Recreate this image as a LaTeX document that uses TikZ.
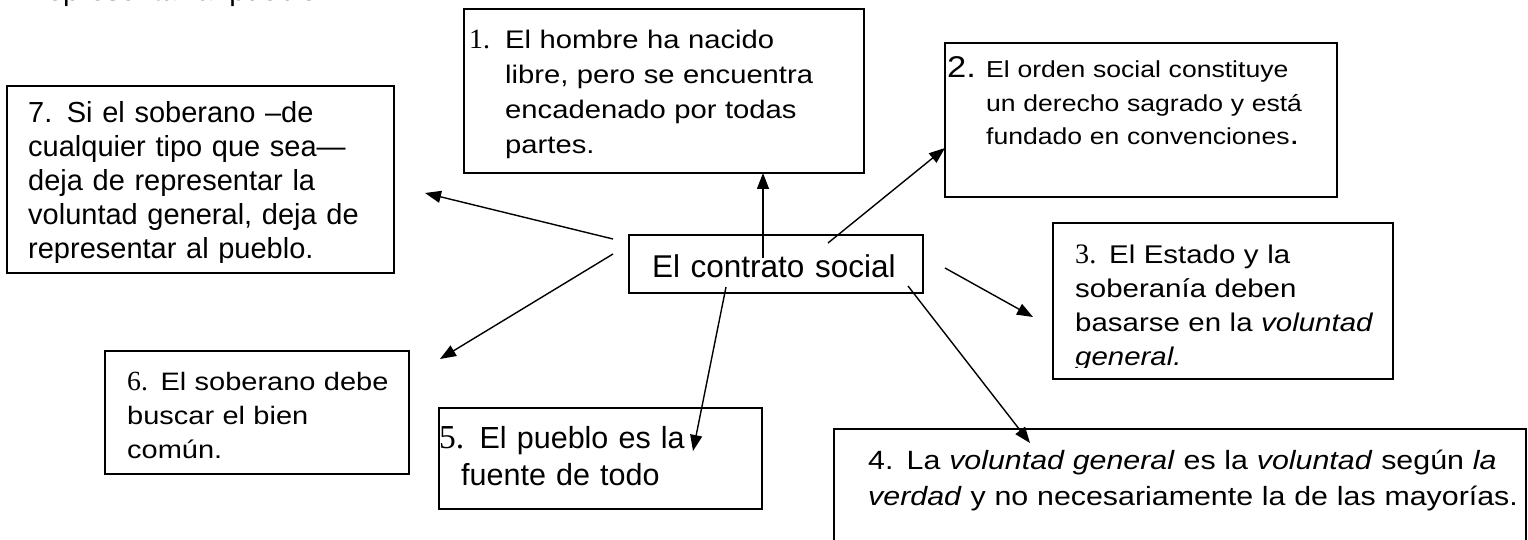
\documentclass[tikz,border=0pt]{standalone}
\usepackage{fontspec}
\setmainfont{Liberation Sans}
\newfontfamily\anchaSans{Liberation Sans}[FakeStretch=1.15]
\newfontfamily\serifNum{Liberation Serif}[Scale=1.1]
\usetikzlibrary{arrows.meta}
\usetikzlibrary{fit}
\newcommand{\drawCaja}[3]{
	\node[caja, fit=(#1)(#2)] (#3) {};
}
\newcommand{\drawFlecha}[2]{
	\draw[flecha] (#1) -- (#2);
}
\tikzset{
	caja/.style={draw, line width=1.6pt, inner sep=0pt, fill=white},
	flecha/.style={-{Triangle[length=16pt,width=12pt]}, line width=1.4pt},
	texto/.style={anchor=base west, inner sep=0pt, align=left, text width=#1},
}

\begin{document}
\begin{tikzpicture}[x=1pt, y=-1pt]
		\path[clip, use as bounding box] (0,0) rectangle (1528,540);
		\coordinate (B7_L) at (7,86);
		\coordinate (B7_R) at (394,273);
		\coordinate (B1_L) at (464,9);
		\coordinate (B1_R) at (864,173);
		\coordinate (B2_L) at (945,43);
		\coordinate (B2_R) at (1337,197);
		\coordinate (BC_L) at (629,235);
		\coordinate (BC_R) at (923,293);
		\coordinate (B3_L) at (1053,223);
		\coordinate (B3_R) at (1393,379);
		\coordinate (B4_L) at (834,429);
		\coordinate (B4_R) at (1526,600);
		\coordinate (B5_L) at (439,408);
		\coordinate (B5_R) at (762,509);
		\coordinate (B6_L) at (105,351);
		\coordinate (B6_R) at (409,474);

		\drawCaja{B7_L}{B7_R}{caja7}
		\drawCaja{B1_L}{B1_R}{caja1}
		\drawCaja{B2_L}{B2_R}{caja2}
		\drawCaja{BC_L}{BC_R}{centro}
		\drawCaja{B3_L}{B3_R}{caja3}
		\drawCaja{B4_L}{B4_R}{caja4}
		\drawCaja{B5_L}{B5_R}{caja5}
		\drawCaja{B6_L}{B6_R}{caja6}

		\node[texto=420pt, font={\fontsize{29.3}{34}\selectfont}] (arriba) at (37,1) {representar al pueblo};
		\begin{scope}
			\clip (B7_L) rectangle (394,262);
			\node[texto=370pt, font={\fontsize{29}{34}\selectfont}] (txt7) at (28,123) {7. Si el soberano –de\\cualquier tipo que sea—\\deja de representar la\\voluntad general, deja de\\representar al pueblo.};
		\end{scope}
		\node[texto=360pt, font={\anchaSans\fontsize{25.4}{34.7}\selectfont}] (txt1) at (505,49) {\llap{\makebox[36pt][l]{\serifNum 1.}}El hombre ha nacido\\libre, pero se encuentra\\encadenado por todas\\partes.};
		\node[texto=350pt, font={\anchaSans\fontsize{23.1}{33.5}\selectfont}] (txt2) at (986,78) {\llap{\makebox[39pt][l]{\fontsize{30}{30}\selectfont 2.}}El orden social constituye\\un derecho sagrado y está\\fundado en convenciones{\fontsize{30}{30}\selectfont .}};
		\node[texto=290pt, font={\fontsize{31.5}{36}\selectfont}] (txtc) at (652,277) {El contrato social};
		\begin{scope}
			\clip (B3_L) rectangle (1393,367);
			\node[texto=320pt, font={\anchaSans\fontsize{25.6}{34}\selectfont}] (txt3) at (1075,263) {{\serifNum 3.} El Estado y la\\soberanía deben\\basarse en la \textit{voluntad}\\\textit{general.}};
		\end{scope}
		\node[texto=680pt, font={\anchaSans\fontsize{26.4}{36}\selectfont}] (txt4) at (868,469) {4. La \textit{voluntad general} es la \textit{voluntad} según \textit{la}\\\textit{verdad} y no necesariamente la de las mayorías.};
		\node[texto=320pt, font={\fontsize{30.5}{37}\selectfont}] (txt5) at (439,448) {{\serifNum 5.} El pueblo es la\\\hspace*{22pt}fuente de todo};
		\node[texto=300pt, font={\anchaSans\fontsize{25.2}{34}\selectfont}] (txt6) at (127,390) {{\serifNum 6.} El soberano debe\\buscar el bien\\común.};

		\coordinate (S1) at (763,258);
		\coordinate (E1) at (763,173);
		\coordinate (S2) at (828,243);
		\coordinate (E2) at (945,148);
		\coordinate (S3) at (945,268);
		\coordinate (E3) at (1033,317);
		\coordinate (S4) at (908,286);
		\coordinate (E4) at (1030,443);
		\coordinate (S5) at (726,287);
		\coordinate (E5) at (693,451);
		\coordinate (S6) at (613,254);
		\coordinate (E6) at (440,359);
		\coordinate (S7) at (613,239);
		\coordinate (E7) at (425,193);

		\drawFlecha{S1}{E1}
		\drawFlecha{S2}{E2}
		\drawFlecha{S3}{E3}
		\drawFlecha{S4}{E4}
		\drawFlecha{S5}{E5}
		\drawFlecha{S6}{E6}
		\drawFlecha{S7}{E7}
	\end{tikzpicture}
\end{document}
